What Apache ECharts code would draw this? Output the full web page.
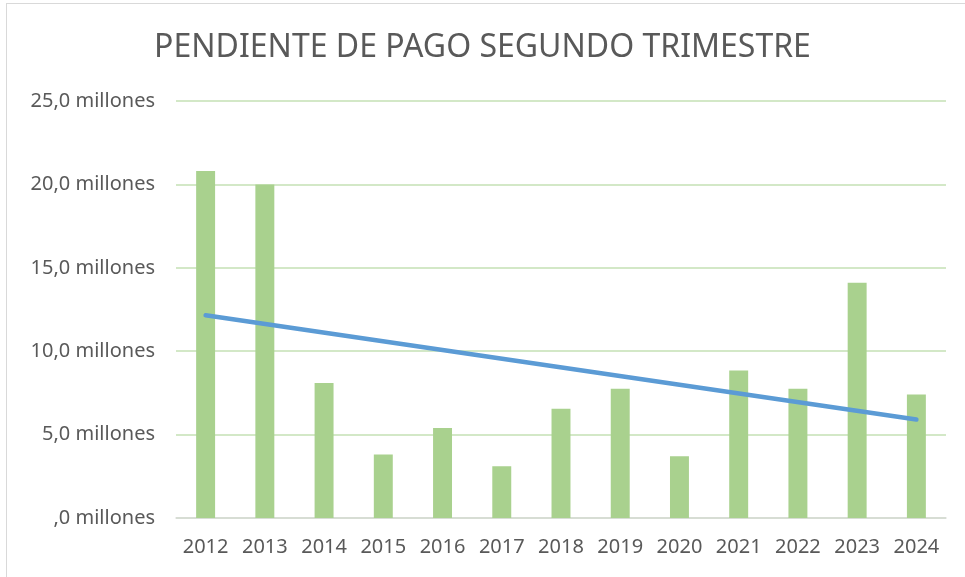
<!DOCTYPE html>
<html>
<head>
<meta charset="utf-8">
<script src="https://cdn.jsdelivr.net/npm/echarts@6/dist/echarts.min.js"></script>
<style>
  html, body { margin: 0; padding: 0; background: #fff; }
  #frame { position: absolute; left: 6px; top: 3px; width: 980px; height: 600px; border: 1px solid #d9d9d9; box-sizing: border-box; }
  #chart { position: absolute; left: 0; top: 0; width: 965px; height: 577px; }
</style>
</head>
<body>
<div id="frame"></div>
<div id="chart"></div>
<script>
// años
var years = ['2012', '2013', '2014', '2015', '2016', '2017', '2018', '2019', '2020', '2021', '2022', '2023', '2024'];
// pendiente de pago (millones)
var pendiente = [20.8, 20.0, 8.1, 3.8, 5.4, 3.1, 6.55, 7.75, 3.7, 8.85, 7.75, 14.1, 7.4];
var tendencia = [12.15, null, null, null, null, null, null, null, null, null, null, null, 5.9];

var myEcharts = echarts.init(document.getElementById('chart'));
var options = {
  animation: false,
  title: {
    text: 'PENDIENTE DE PAGO SEGUNDO TRIMESTRE',
    left: 'center',
    top: 27,
    textStyle: {
      color: '#595959',
      fontFamily: 'Noto Sans',
      fontWeight: 'normal',
      fontSize: 32
    }
  },
  grid: {
    left: 176,
    right: 19,
    top: 101,
    bottom: 59
  },
  xAxis: {
    type: 'category',
    data: years,
    axisLine: { lineStyle: { color: '#d9d9d9', width: 1.5 } },
    axisTick: { show: false },
    axisLabel: {
      color: '#595959',
      fontFamily: 'Noto Sans',
      fontSize: 20,
      margin: 19,
      interval: 0
    }
  },
  yAxis: {
    type: 'value',
    min: 0,
    max: 25,
    interval: 5,
    axisLine: { show: false },
    axisTick: { show: false },
    splitLine: { lineStyle: { color: '#c5e0b4', width: 1.5 } },
    axisLabel: {
      color: '#595959',
      fontFamily: 'Noto Sans',
      fontSize: 20,
      margin: 21,
      formatter: function (v) {
        return (v === 0 ? '' : String(v)) + ',0 millones';
      }
    }
  },
  series: [
    {
      type: 'bar',
      name: 'Pendiente',
      data: pendiente,
      barWidth: '32%',
      itemStyle: { color: '#a9d18e' }
    },
    {
      type: 'line',
      name: 'Tendencia',
      data: tendencia,
      connectNulls: true,
      showSymbol: false,
      symbol: 'none',
      lineStyle: { color: '#5b9bd5', width: 4.5, cap: 'round' },
      z: 5
    }
  ]
};
myEcharts.setOption(options, true);
</script>
</body>
</html>
